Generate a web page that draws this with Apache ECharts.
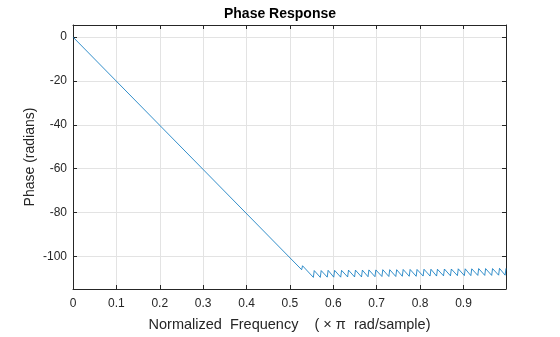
<!DOCTYPE html>
<html>
<head>
<meta charset="utf-8">
<script src="https://cdn.jsdelivr.net/npm/echarts@6/dist/echarts.min.js"></script>
<style>
  html, body { margin: 0; padding: 0; background: #fff; }
  #chart { width: 560px; height: 337px; }
</style>
</head>
<body>
<div id="chart"></div>
<script>
// Unwrapped phase of a linear-phase lowpass FIR filter.
// Passband: a straight ramp; stopband: a sawtooth of pi jumps at the zeros.
const rampFreq  = [0, 0.527, 0.529];
const rampPhase = [0, -106.0, -104.2];

// Stopband sawtooth: bottom of each tooth (just before the jump) ...
const lowFreq  = [0.554, 0.570, 0.586, 0.601, 0.617, 0.633, 0.649, 0.665, 0.680, 0.696,
                  0.712, 0.728, 0.744, 0.759, 0.775, 0.791, 0.807, 0.823, 0.838, 0.854,
                  0.870, 0.886, 0.902, 0.917, 0.933, 0.949, 0.965, 0.981, 0.996];
const lowPhase = [-109.5, -109.5, -109.4, -109.4, -109.4, -109.3, -109.3, -109.3, -109.2, -109.2,
                  -109.1, -109.1, -109.1, -109.0, -109.0, -109.0, -108.9, -108.9, -108.9, -108.8,
                  -108.8, -108.7, -108.7, -108.7, -108.6, -108.6, -108.6, -108.5, -108.5];
// ... and top of each tooth (just after the jump)
const highFreq  = [0.556, 0.572, 0.588, 0.603, 0.619, 0.635, 0.651, 0.667, 0.682, 0.698,
                   0.714, 0.730, 0.746, 0.761, 0.777, 0.793, 0.809, 0.825, 0.840, 0.856,
                   0.872, 0.888, 0.904, 0.919, 0.935, 0.951, 0.967, 0.983, 0.998];
const highPhase = [-106.4, -106.4, -106.3, -106.3, -106.3, -106.2, -106.2, -106.2, -106.1, -106.1,
                   -106.0, -106.0, -106.0, -105.9, -105.9, -105.9, -105.8, -105.8, -105.8, -105.7,
                   -105.7, -105.6, -105.6, -105.6, -105.5, -105.5, -105.5, -105.4, -105.4];

const xTickLabels = ['0', '0.1', '0.2', '0.3', '0.4', '0.5', '0.6', '0.7', '0.8', '0.9'];
const yTickLabels = ['0', '-20', '-40', '-60', '-80', '-100'];

const points = [];
rampFreq.forEach((f, i) => points.push([f, rampPhase[i]]));
lowFreq.forEach((f, i) => {
  points.push([f, lowPhase[i]]);
  points.push([highFreq[i], highPhase[i]]);
});

const FONT = '"Liberation Sans", Arial, Helvetica, sans-serif';
const INK = '#262626';
const GRID = '#e3e3e3';

function xLabel(v) {
  const s = v === 0 ? '0' : v.toFixed(1);
  return xTickLabels.includes(s) && Math.abs(v - Math.round(v * 10) / 10) < 1e-6 ? s : '';
}
function yLabel(v) {
  const s = String(Math.round(v));
  return Math.abs(v - Math.round(v / 20) * 20) < 1e-6 && yTickLabels.includes(s) ? s : '';
}

const chart = echarts.init(document.getElementById('chart'), null, { renderer: 'canvas' });
chart.setOption({
  animation: false,
  backgroundColor: '#fff',
  title: {
    text: 'Phase Response',
    left: 'center',
    top: 2,
    textStyle: { fontFamily: FONT, fontSize: 14, fontWeight: 'bold', color: '#000' }
  },
  grid: { left: 73, right: 54, top: 25, bottom: 42, containLabel: false },
  xAxis: [{
    type: 'value', min: 0, max: 0.998, interval: 0.1,
    position: 'bottom',
    name: 'Normalized  Frequency    ( \u00d7 \u03c0  rad/sample)',
    nameLocation: 'middle', nameGap: 28, nameMoveOverlap: false,
    nameTextStyle: { fontFamily: FONT, fontSize: 14.5, color: INK },
    axisLine: { show: true, onZero: false, lineStyle: { color: INK, width: 1 } },
    axisTick: { show: true, inside: true, length: 4, lineStyle: { color: INK } },
    axisLabel: { fontFamily: FONT, fontSize: 12, color: INK, margin: 9, formatter: xLabel,
                 showMaxLabel: false },
    splitLine: { show: true, lineStyle: { color: GRID, width: 1 } }
  }, {
    type: 'value', min: 0, max: 0.998, interval: 0.1,
    position: 'top',
    axisLine: { show: true, onZero: false, lineStyle: { color: INK, width: 1 } },
    axisTick: { show: true, inside: true, length: 4, lineStyle: { color: INK } },
    axisLabel: { show: false },
    splitLine: { show: false }
  }],
  yAxis: [{
    type: 'value', min: -114.8, max: 5.5, splitNumber: 6,
    position: 'left',
    name: 'Phase (radians)',
    nameLocation: 'middle', nameGap: 36, nameMoveOverlap: false,
    nameTextStyle: { fontFamily: FONT, fontSize: 14, color: INK },
    axisLine: { show: true, onZero: false, lineStyle: { color: INK, width: 1 } },
    axisTick: { show: true, inside: true, length: 4, lineStyle: { color: INK } },
    axisLabel: { fontFamily: FONT, fontSize: 12, color: INK, margin: 6, formatter: yLabel },
    splitLine: { show: true, lineStyle: { color: GRID, width: 1 } }
  }, {
    type: 'value', min: -114.8, max: 5.5, splitNumber: 6,
    position: 'right',
    axisLine: { show: true, onZero: false, lineStyle: { color: INK, width: 1 } },
    axisTick: { show: true, inside: true, length: 4, lineStyle: { color: INK } },
    axisLabel: { show: false },
    splitLine: { show: false }
  }],
  series: [{
    type: 'line',
    xAxisIndex: 0, yAxisIndex: 0,
    data: points,
    showSymbol: false,
    symbol: 'none',
    lineStyle: { color: '#0072BD', width: 0.8 },
    z: 3
  }]
});
</script>
</body>
</html>
